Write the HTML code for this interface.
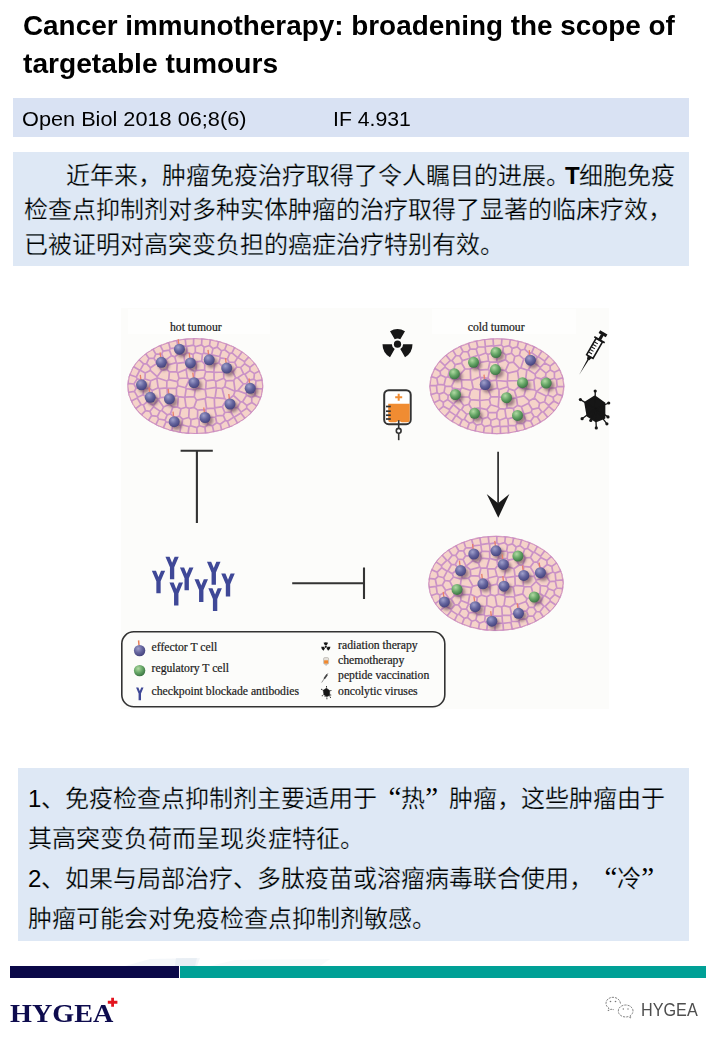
<!DOCTYPE html>
<html lang="zh-CN"><head><meta charset="utf-8">
<style>
html,body{margin:0;padding:0;background:#fff;}
body{width:720px;height:1040px;position:relative;overflow:hidden;font-family:"Liberation Sans",sans-serif;color:#000;}
.abs{position:absolute;}
.t{position:absolute;white-space:nowrap;line-height:1;}
#title1,#title2{font-weight:bold;font-size:27px;left:23.1px;transform-origin:0 0;}
#title1{top:12.9px;transform:scaleX(1.032);}
#title2{top:51px;transform:scaleX(1.043);}
#box1{left:13px;top:98px;width:676px;height:39px;background:#d9e2f3;}
#box2{left:13px;top:152px;width:676px;height:114px;background:#dee8f5;}
#box3{left:18px;top:768px;width:671px;height:173px;background:#dee8f5;}
.cn{font-size:24px;-webkit-text-stroke:0.25px #dee8f5;}
.ql,.qr{display:inline-block;width:24px;font-family:"Liberation Serif",serif;font-size:29px;line-height:0;-webkit-text-stroke:0;}
.ql{text-align:right;}
.qr{text-align:left;}
</style></head>
<body>
<div id="title1" class="t">Cancer immunotherapy: broadening the scope of</div>
<div id="title2" class="t">targetable tumours</div>
<div id="box1" class="abs"></div>
<div class="t" style="left:21.8px;top:108.7px;font-size:20.6px;transform-origin:0 0;transform:scaleX(1.054);">Open Biol 2018 06;8(6)</div>
<div class="t" style="left:332.5px;top:108.7px;font-size:20.6px;transform-origin:0 0;transform:scaleX(1.03);">IF 4.931</div>
<div id="box2" class="abs"></div>
<div class="t cn" style="left:66px;top:163.8px;">近年来，肿瘤免疫治疗取得了令人瞩目的进展。<span style="font-weight:bold;margin-left:-5px;letter-spacing:-1px;-webkit-text-stroke:0">T</span>细胞免疫</div>
<div class="t cn" style="left:24px;top:198px;">检查点抑制剂对多种实体肿瘤的治疗取得了显著的临床疗效，</div>
<div class="t cn" style="left:24px;top:233px;">已被证明对高突变负担的癌症治疗特别有效。</div>

<svg class="abs" style="left:0;top:0" width="720" height="1040" viewBox="0 0 720 1040"><rect x="121" y="308" width="488" height="401" fill="#fcfcfa"/>
<rect x="128" y="309" width="142" height="25" fill="#fefefd"/>
<rect x="432" y="309" width="144" height="25" fill="#fefefd"/>
<text x="170" y="330.6" font-family="Liberation Serif" font-size="11.7" fill="#1c1c1c" stroke="#1c1c1c" stroke-width="0.22">hot tumour</text>
<text x="467.8" y="330.6" font-family="Liberation Serif" font-size="11.7" fill="#1c1c1c" stroke="#1c1c1c" stroke-width="0.22">cold tumour</text>
<defs>
<radialGradient id="gP" cx="0.38" cy="0.32" r="0.72"><stop offset="0" stop-color="#a0a0cb"/><stop offset="0.5" stop-color="#66669f"/><stop offset="1" stop-color="#42407a"/></radialGradient>
<radialGradient id="gG" cx="0.38" cy="0.32" r="0.72"><stop offset="0" stop-color="#b2daa4"/><stop offset="0.5" stop-color="#68a868"/><stop offset="1" stop-color="#377040"/></radialGradient>
<filter id="blur" x="-50%" y="-50%" width="200%" height="200%"><feGaussianBlur stdDeviation="1.4"/></filter>
</defs>
<clipPath id="ec1"><ellipse cx="195.3" cy="386.1" rx="68" ry="48"/></clipPath>
<ellipse cx="195.3" cy="386.1" rx="68" ry="48" fill="#f5d3c9"/>
<path clip-path="url(#ec1)" d="M261.4 400.9L260.9 397.9M260.9 397.9L264.0 394.0M261.9 372.6L263.0 379.9M263.2 380.1L263.0 379.9M263.2 380.1L264.4 386.8M264.0 394.0L262.9 388.8M264.4 386.8L262.9 388.8M216.7 422.7L220.2 424.3M216.7 422.7L212.4 425.9M220.2 424.3L221.8 430.2M221.8 430.2L220.7 431.7M220.7 431.7L214.0 432.5M212.4 425.9L214.0 432.5M213.2 433.4L214.0 432.5M177.4 338.8L184.9 338.1M192.9 337.2L185.1 338.3M184.9 338.1L185.1 338.3M155.6 345.6L160.1 345.2M162.2 342.4L160.1 345.2M142.7 354.0L145.7 353.8M149.1 349.3L145.7 353.8M155.6 345.6L152.9 349.0M149.1 349.3L152.9 349.0M138.0 359.3L133.2 365.2M142.7 354.0L138.5 359.2M138.0 359.3L138.5 359.2M241.9 422.8L245.1 418.4M241.9 422.8L237.5 423.1M245.1 418.4L240.9 413.0M237.5 423.1L234.1 417.2M234.1 417.2L240.9 413.0M225.4 420.4L223.3 415.3M225.4 420.4L227.4 421.2M227.4 421.2L233.8 417.1M230.8 412.0L233.8 417.1M230.8 412.0L224.8 412.5M223.3 415.3L224.8 412.5M261.4 400.9L257.2 406.1M257.3 406.8L257.2 406.1M247.6 418.2L252.0 412.9M252.4 412.8L252.0 412.9M245.1 418.4L247.6 418.2M257.3 406.8L252.4 412.8M235.1 426.7L229.8 427.0M227.7 429.8L229.8 427.0M237.5 423.1L235.1 426.7M221.8 430.2L227.7 429.8M227.4 421.2L229.8 427.0M233.8 417.1L234.1 417.2M225.4 420.4L220.2 424.3M198.1 434.9L205.4 434.2M213.2 433.4L205.7 433.8M205.4 434.2L205.7 433.8M162.2 342.4L168.5 342.1M169.9 340.3L168.5 342.1M177.4 338.8L176.6 339.9M169.9 340.3L176.6 339.9M186.0 345.8L178.2 347.1M186.0 345.8L185.1 338.3M176.6 339.9L178.2 347.1M160.1 345.2L163.1 351.1M152.9 349.0L155.8 354.2M155.8 354.2L161.7 353.8M161.7 353.8L163.1 351.1M145.7 353.8L149.0 358.4M155.8 354.2L153.9 358.3M153.9 358.3L149.0 358.4M133.2 365.2L133.3 366.5M129.2 371.5L133.3 366.5M177.2 363.3L176.3 362.6M177.2 363.3L176.7 371.8M176.7 371.8L169.4 371.8M169.4 371.8L166.8 369.4M176.3 362.6L168.1 364.9M166.8 369.4L168.1 364.9M147.8 421.0L141.7 416.9M167.7 431.6L163.2 428.2M163.2 428.2L160.7 428.6M183.0 434.7L179.9 432.5M179.9 432.5L175.4 433.5M167.7 431.6L171.7 430.7M175.4 433.5L171.7 430.7M229.6 343.3L227.0 343.8M222.8 340.5L227.0 343.8M229.6 343.3L234.9 347.0M236.5 346.6L234.9 347.0M216.7 422.7L215.5 417.0M223.3 415.3L216.3 415.8M215.5 417.0L216.3 415.8M178.3 396.6L177.6 407.2M178.3 396.6L184.7 397.3M177.6 407.2L180.9 408.8M184.7 397.3L186.1 407.2M180.9 408.8L186.1 407.2M196.9 427.6L197.0 434.0M196.9 427.6L190.6 425.7M197.0 434.0L190.6 435.3M190.6 425.7L189.0 426.8M189.0 426.8L188.1 433.4M188.1 433.4L190.6 435.3M198.1 434.9L197.0 434.0M183.0 434.7L188.1 433.4M205.7 433.8L204.9 427.2M196.9 427.6L199.3 425.7M199.3 425.7L204.9 427.2M212.4 425.9L208.1 424.5M208.1 424.5L204.9 427.2M179.0 353.4L177.9 347.5M179.0 353.4L174.8 356.9M177.9 347.5L170.2 348.7M174.8 356.9L171.5 355.6M171.5 355.6L169.4 350.1M170.2 348.7L169.4 350.1M168.5 342.1L170.2 348.7M178.2 347.1L177.9 347.5M176.3 362.6L174.8 356.9M168.1 364.9L165.9 359.9M165.9 359.9L171.5 355.6M161.7 353.8L163.7 359.1M163.1 351.1L169.4 350.1M163.7 359.1L165.9 359.9M178.3 396.6L176.5 395.6M176.5 395.6L169.5 398.5M177.6 407.2L172.8 407.2M172.8 407.2L169.8 404.3M169.5 398.5L169.8 404.3M172.8 407.2L170.4 413.9M161.8 410.5L163.5 407.0M161.8 410.5L167.2 414.9M167.2 414.9L170.4 413.9M169.8 404.3L163.5 407.0M222.8 340.5L218.6 341.4M215.3 338.6L218.6 341.4M192.9 337.2L193.7 337.8M193.7 337.8L200.2 337.1M186.0 345.8L186.6 346.3M193.7 337.8L193.5 345.2M186.6 346.3L193.5 345.2M211.6 354.8L219.7 356.5M211.6 354.8L213.0 348.6M213.0 348.6L217.2 347.1M217.2 347.1L221.6 350.8M221.6 350.8L219.7 356.5M227.0 343.8L224.7 349.8M224.7 349.8L221.6 350.8M218.6 341.4L217.2 347.1M240.9 413.0L241.0 412.1M252.0 412.9L246.7 408.2M241.0 412.1L246.7 408.2M195.2 389.8L186.2 388.7M195.2 389.8L194.3 396.6M194.3 396.6L184.9 397.2M186.2 388.7L184.9 397.2M176.5 395.6L176.4 388.1M176.4 388.1L178.0 385.8M184.7 397.3L184.9 397.2M185.5 387.8L178.0 385.8M185.5 387.8L186.2 388.7M189.2 408.4L186.1 407.2M189.2 408.4L194.0 407.4M194.3 396.6L196.6 400.1M194.0 407.4L196.6 400.1M179.4 416.1L182.6 419.2M179.4 416.1L174.8 417.6M174.8 417.6L173.2 423.6M182.6 419.2L181.9 424.7M173.3 423.7L180.9 425.5M173.3 423.7L173.2 423.6M181.9 424.7L180.9 425.5M180.9 408.8L179.4 416.1M189.2 408.4L188.7 417.5M188.7 417.5L182.6 419.2M170.4 413.9L174.8 417.6M167.2 414.9L165.1 420.1M166.0 421.9L165.1 420.1M166.0 421.9L173.2 423.6M191.0 419.7L190.6 425.7M191.0 419.7L188.7 417.5M189.0 426.8L181.9 424.7M179.9 432.5L180.9 425.5M171.7 430.7L173.3 423.7M163.2 428.2L166.0 421.9M207.2 417.9L205.6 409.7M207.2 417.9L207.0 418.1M207.0 418.1L199.1 419.7M197.7 410.1L205.6 409.7M197.7 410.1L197.5 418.2M197.5 418.2L199.1 419.7M215.5 417.0L207.2 417.9M208.1 424.5L207.0 418.1M199.3 425.7L199.1 419.7M191.0 419.7L197.5 418.2M194.0 407.4L197.7 410.1M186.1 369.4L187.4 378.0M186.1 369.4L177.7 372.8M187.4 378.0L179.0 378.4M177.7 372.8L179.0 378.4M189.4 379.3L185.5 387.8M189.4 379.3L187.4 378.0M178.0 385.8L177.4 381.6M177.4 381.6L179.0 378.4M176.7 371.8L177.7 372.8M169.4 371.8L168.7 379.7M168.7 379.7L177.4 381.6M126.2 385.5L127.3 392.3M166.8 369.4L161.7 370.4M163.7 359.1L157.2 363.3M161.7 370.4L157.2 363.3M153.9 358.3L157.1 363.3M157.1 363.3L157.2 363.3M158.6 419.0L155.8 424.9M158.6 419.0L157.4 416.3M157.4 416.3L151.7 415.6M154.0 425.2L155.8 424.9M154.0 425.2L148.1 420.9M148.1 420.9L151.7 415.6M160.7 428.6L155.8 424.9M165.1 420.1L158.6 419.0M161.8 410.5L160.0 411.1M160.0 411.1L157.4 416.3M147.8 421.0L148.1 420.9M224.7 349.8L229.7 353.6M234.9 347.0L232.0 352.9M229.7 353.6L232.0 352.9M219.7 356.5L220.3 357.9M229.7 353.6L227.4 359.0M220.3 357.9L227.4 359.0M232.0 352.9L237.6 357.6M237.6 357.6L234.7 362.3M234.7 362.3L228.9 362.0M227.4 359.0L228.9 362.0M209.5 345.5L210.4 339.4M209.5 345.5L204.1 347.2M204.1 347.2L201.6 344.9M201.6 344.9L201.9 338.4M201.9 338.4L207.9 337.4M207.9 337.4L210.4 339.4M215.3 338.6L210.4 339.4M213.0 348.6L209.5 345.5M200.2 337.1L201.9 338.4M193.5 345.2L195.3 346.7M195.3 346.7L201.6 344.9M211.6 354.8L211.5 354.9M204.1 347.2L203.7 353.1M211.5 354.9L203.7 353.1M196.6 400.1L205.1 398.7M205.6 409.7L206.6 408.7M206.6 408.7L205.1 398.7M216.3 415.8L214.5 408.1M206.6 408.7L214.5 408.1M126.2 385.5L127.9 383.4M127.9 383.4L127.1 378.1M129.2 371.5L129.7 374.7M127.1 378.1L129.7 374.7M127.3 392.3L127.5 392.5M128.6 399.1L127.5 392.5M248.9 355.4L243.0 350.9M236.5 346.6L242.7 350.9M237.6 357.6L238.0 357.6M238.0 357.6L242.7 350.9M243.0 350.9L242.7 350.9M214.6 364.3L213.8 372.1M214.6 364.3L218.8 362.8M218.8 362.8L225.1 369.2M214.0 372.4L213.8 372.1M214.0 372.4L223.7 372.0M223.7 372.0L225.2 370.2M225.1 369.2L225.2 370.2M220.3 357.9L218.8 362.8M211.5 354.9L210.2 361.6M210.2 361.6L214.6 364.3M228.9 362.0L225.1 369.2M223.8 378.2L215.7 381.5M223.8 378.2L223.7 372.0M214.1 379.9L215.7 381.5M214.1 379.9L214.0 372.4M234.7 362.3L236.8 367.0M236.8 367.0L232.8 371.9M232.8 371.9L225.2 370.2M195.3 346.7L195.3 352.4M203.7 353.1L202.4 354.2M195.3 352.4L202.4 354.2M206.2 380.8L214.1 379.9M206.2 380.8L204.0 377.9M213.8 372.1L205.7 371.6M205.7 371.6L204.0 377.9M189.4 379.3L194.2 379.0M186.1 369.4L187.3 367.5M187.3 367.5L194.8 371.6M194.8 371.6L194.2 379.0M196.8 388.2L195.2 389.8M196.8 388.2L195.2 379.7M195.2 379.7L194.2 379.0M204.8 364.0L201.7 361.2M204.8 364.0L204.6 369.8M204.6 369.8L196.2 370.5M196.2 370.5L196.2 361.9M196.2 361.9L201.7 361.2M210.2 361.6L204.8 364.0M202.4 354.2L201.7 361.2M205.7 371.6L204.6 369.8M204.0 377.9L195.2 379.7M194.8 371.6L196.2 370.5M257.2 406.1L251.8 402.5M246.7 408.2L246.7 405.4M246.7 405.4L251.8 402.5M227.8 399.9L233.5 395.5M227.8 399.9L232.7 407.7M233.5 395.5L240.5 401.9M240.5 401.9L237.4 407.5M232.7 407.7L237.4 407.5M241.0 412.1L237.4 407.5M246.7 405.4L242.6 401.8M242.6 401.8L240.5 401.9M230.8 412.0L232.7 407.7M196.8 388.2L205.2 389.6M205.1 398.7L206.4 397.0M205.2 389.6L206.4 397.0M206.2 380.8L205.7 389.0M205.2 389.6L205.7 389.0M215.7 381.5L216.1 387.3M205.7 389.0L216.1 387.3M224.8 386.7L225.9 380.8M224.8 386.7L222.1 388.5M222.1 388.5L216.5 387.8M223.8 378.2L225.9 380.8M216.5 387.8L216.1 387.3M214.7 407.9L214.3 398.2M214.7 407.9L222.3 406.7M222.3 406.7L226.3 400.0M215.1 397.6L214.3 398.2M215.1 397.6L224.7 398.7M226.3 400.0L224.7 398.7M214.5 408.1L214.7 407.9M206.4 397.0L214.3 398.2M224.8 412.5L222.3 406.7M227.8 399.9L226.3 400.0M216.5 387.8L215.1 397.6M222.1 388.5L224.7 398.7M235.0 391.2L233.5 395.5M235.0 391.2L224.8 386.7M128.6 399.1L131.4 401.0M131.9 406.0L131.4 401.0M127.9 383.4L133.9 384.0M133.9 384.0L136.1 388.1M127.5 392.5L134.4 391.3M136.1 388.1L134.4 391.3M176.4 388.1L167.1 388.3M169.5 398.5L167.5 397.0M167.5 397.0L167.1 388.3M129.7 374.7L136.3 377.0M133.9 384.0L137.2 378.9M136.3 377.0L137.2 378.9M133.3 366.5L139.7 370.3M136.3 377.0L139.7 370.3M136.1 388.1L142.4 387.8M137.2 378.9L142.5 380.5M142.4 387.8L142.5 380.5M248.9 355.4L249.1 356.7M254.4 360.4L249.1 356.7M238.0 357.6L244.5 361.6M249.1 356.7L244.5 361.6M193.0 354.4L193.3 360.7M193.0 354.4L187.0 352.6M184.0 355.1L187.0 352.6M184.0 355.1L184.8 362.4M193.3 360.7L186.9 364.0M184.8 362.4L186.9 364.0M195.3 352.4L193.0 354.4M196.2 361.9L193.3 360.7M186.6 346.3L187.0 352.6M179.0 353.4L184.0 355.1M177.2 363.3L184.8 362.4M187.3 367.5L186.9 364.0M235.1 391.1L237.8 390.6M235.1 391.1L233.7 380.4M237.8 390.6L243.4 384.0M243.4 384.0L237.6 377.7M233.7 380.4L235.7 377.8M237.6 377.7L235.7 377.8M235.0 391.2L235.1 391.1M225.9 380.8L233.7 380.4M232.8 371.9L235.7 377.8M249.5 388.0L246.0 393.7M249.5 388.0L255.2 388.5M255.2 388.5L255.2 388.5M255.2 388.5L255.0 395.6M255.0 395.6L251.7 397.6M251.7 397.6L246.6 395.2M246.0 393.7L246.6 395.2M246.7 383.5L249.5 388.0M246.7 383.5L243.4 384.0M237.8 390.6L246.0 393.7M256.0 380.8L255.2 388.5M256.0 380.8L253.9 379.1M253.9 379.1L248.3 380.4M248.3 380.4L246.7 383.5M263.0 379.9L256.0 380.8M262.9 388.8L255.2 388.5M260.9 397.9L255.0 395.6M251.8 402.5L251.7 397.6M242.6 401.8L246.6 395.2M131.9 406.0L135.7 408.7M136.1 411.5L135.7 408.7M141.7 416.9L141.4 414.9M136.1 411.5L141.4 414.9M131.4 401.0L137.3 398.1M135.7 408.7L141.1 404.5M137.3 398.1L141.1 404.5M134.4 391.3L137.7 397.2M137.3 398.1L137.7 397.2M142.4 387.8L143.6 388.9M143.6 388.9L143.2 394.8M137.7 397.2L143.2 394.8M168.7 379.7L166.9 381.0M167.1 388.3L166.7 387.9M166.9 381.0L166.7 387.9M161.7 370.4L157.1 376.7M157.1 376.7L157.1 377.8M166.9 381.0L157.1 377.8M167.5 397.0L160.3 397.6M160.3 397.6L159.4 388.6M166.7 387.9L159.4 388.6M140.2 370.2L145.2 373.1M140.2 370.2L143.7 363.9M145.2 373.1L150.3 370.4M143.7 363.9L146.5 363.6M146.5 363.6L150.4 367.7M150.4 367.7L150.3 370.4M139.7 370.3L140.2 370.2M142.5 380.5L145.0 379.0M145.0 379.0L145.2 373.1M138.5 359.2L143.7 363.9M149.0 358.4L146.5 363.6M157.1 363.3L150.4 367.7M157.1 376.7L150.3 370.4M261.9 372.6L259.6 371.1M253.9 379.1L254.4 373.6M254.4 373.6L259.6 371.1M254.4 360.4L254.8 363.4M254.8 363.4L259.1 366.2M259.6 371.1L259.1 366.2M240.6 367.5L243.6 373.9M240.6 367.5L244.6 363.8M244.6 363.8L249.9 367.3M244.9 374.2L249.9 370.6M244.9 374.2L243.6 373.9M249.9 370.6L249.9 367.3M236.8 367.0L240.6 367.5M237.6 377.7L243.6 373.9M244.5 361.6L244.6 363.8M254.8 363.4L249.9 367.3M248.3 380.4L244.9 374.2M254.4 373.6L249.9 370.6M160.0 411.1L153.6 406.8M151.7 415.6L149.9 411.3M149.9 411.3L153.6 406.8M141.4 414.9L145.6 410.7M149.9 411.3L145.6 410.7M141.1 404.5L143.4 404.8M145.6 410.7L143.4 404.8M158.2 387.8L156.8 378.2M158.2 387.8L152.2 390.5M152.2 390.5L149.1 388.1M149.1 388.1L150.7 380.8M150.7 380.8L156.8 378.2M159.4 388.6L158.2 387.8M157.1 377.8L156.8 378.2M143.6 388.9L149.1 388.1M145.0 379.0L150.7 380.8M147.3 397.9L147.1 401.8M147.3 397.9L152.0 395.3M147.1 401.8L153.5 405.5M152.0 395.3L158.3 399.3M153.5 405.5L158.2 399.6M158.2 399.6L158.3 399.3M143.2 394.8L147.3 397.9M143.4 404.8L147.1 401.8M152.2 390.5L152.0 395.3M153.6 406.8L153.5 405.5M160.3 397.6L158.3 399.3M163.5 407.0L158.2 399.6" fill="none" stroke="#ca92c6" stroke-width="1.7" stroke-linejoin="round"/>
<ellipse cx="195.3" cy="386.1" rx="67.4" ry="47.4" fill="none" stroke="#c98ac2" stroke-width="0.9"/>
<circle cx="182.0" cy="352.0" r="5.6" fill="#5a3a50" opacity="0.55" filter="url(#blur)"/><line x1="178.8" y1="344.2" x2="178.2" y2="339.2" stroke="#e8806a" stroke-width="1.3"/><circle cx="179.4" cy="349.2" r="5.5" fill="url(#gP)"/>
<circle cx="163.9" cy="365.1" r="5.6" fill="#5a3a50" opacity="0.55" filter="url(#blur)"/><line x1="160.7" y1="357.3" x2="160.1" y2="352.3" stroke="#e8806a" stroke-width="1.3"/><circle cx="161.3" cy="362.3" r="5.5" fill="url(#gP)"/>
<circle cx="193.0" cy="365.7" r="5.6" fill="#5a3a50" opacity="0.55" filter="url(#blur)"/><line x1="189.8" y1="357.9" x2="189.2" y2="352.9" stroke="#e8806a" stroke-width="1.3"/><circle cx="190.4" cy="362.9" r="5.5" fill="url(#gP)"/>
<circle cx="211.8" cy="362.6" r="5.6" fill="#5a3a50" opacity="0.55" filter="url(#blur)"/><line x1="208.6" y1="354.8" x2="208.0" y2="349.8" stroke="#e8806a" stroke-width="1.3"/><circle cx="209.2" cy="359.8" r="5.5" fill="url(#gP)"/>
<circle cx="229.3" cy="370.9" r="5.6" fill="#5a3a50" opacity="0.55" filter="url(#blur)"/><line x1="226.1" y1="363.1" x2="225.5" y2="358.1" stroke="#e8806a" stroke-width="1.3"/><circle cx="226.7" cy="368.1" r="5.5" fill="url(#gP)"/>
<circle cx="196.6" cy="385.5" r="5.6" fill="#5a3a50" opacity="0.55" filter="url(#blur)"/><line x1="193.4" y1="377.7" x2="192.8" y2="372.7" stroke="#e8806a" stroke-width="1.3"/><circle cx="194.0" cy="382.7" r="5.5" fill="url(#gP)"/>
<circle cx="144.1" cy="387.6" r="5.6" fill="#5a3a50" opacity="0.55" filter="url(#blur)"/><line x1="140.9" y1="379.8" x2="140.3" y2="374.8" stroke="#e8806a" stroke-width="1.3"/><circle cx="141.5" cy="384.8" r="5.5" fill="url(#gP)"/>
<circle cx="252.8" cy="391.1" r="5.6" fill="#5a3a50" opacity="0.55" filter="url(#blur)"/><line x1="249.6" y1="383.3" x2="249.0" y2="378.3" stroke="#e8806a" stroke-width="1.3"/><circle cx="250.2" cy="388.3" r="5.5" fill="url(#gP)"/>
<circle cx="152.8" cy="400.1" r="5.6" fill="#5a3a50" opacity="0.55" filter="url(#blur)"/><line x1="149.6" y1="392.3" x2="149.0" y2="387.3" stroke="#e8806a" stroke-width="1.3"/><circle cx="150.2" cy="397.3" r="5.5" fill="url(#gP)"/>
<circle cx="172.0" cy="401.6" r="5.6" fill="#5a3a50" opacity="0.55" filter="url(#blur)"/><line x1="168.8" y1="393.8" x2="168.2" y2="388.8" stroke="#e8806a" stroke-width="1.3"/><circle cx="169.4" cy="398.8" r="5.5" fill="url(#gP)"/>
<circle cx="232.6" cy="406.8" r="5.6" fill="#5a3a50" opacity="0.55" filter="url(#blur)"/><line x1="229.4" y1="399.0" x2="228.8" y2="394.0" stroke="#e8806a" stroke-width="1.3"/><circle cx="230.0" cy="404.0" r="5.5" fill="url(#gP)"/>
<circle cx="207.6" cy="420.3" r="5.6" fill="#5a3a50" opacity="0.55" filter="url(#blur)"/><line x1="204.4" y1="412.5" x2="203.8" y2="407.5" stroke="#e8806a" stroke-width="1.3"/><circle cx="205.0" cy="417.5" r="5.5" fill="url(#gP)"/>
<circle cx="176.8" cy="424.5" r="5.6" fill="#5a3a50" opacity="0.55" filter="url(#blur)"/><line x1="173.6" y1="416.7" x2="173.0" y2="411.7" stroke="#e8806a" stroke-width="1.3"/><circle cx="174.2" cy="421.7" r="5.5" fill="url(#gP)"/>
<clipPath id="ec2"><ellipse cx="496.9" cy="386.2" rx="67.5" ry="48"/></clipPath>
<ellipse cx="496.9" cy="386.2" rx="67.5" ry="48" fill="#f5d3c9"/>
<path clip-path="url(#ec2)" d="M434.8 364.4L434.5 368.3M431.4 370.7L434.5 368.3M563.3 373.3L562.8 377.8M565.4 380.4L562.8 377.8M428.7 384.7L429.5 378.0M429.3 385.4L428.7 384.7M429.3 385.4L428.6 392.1M431.4 370.7L431.3 376.6M431.3 376.6L429.5 378.0M455.0 425.7L459.5 425.6M462.1 429.0L459.5 425.6M433.9 402.8L439.6 399.9M433.9 402.8L430.4 398.8M430.4 398.8L430.9 394.6M430.9 394.6L437.1 392.8M439.6 399.9L439.2 394.1M437.1 392.8L439.2 394.1M428.6 392.1L430.9 394.6M436.5 385.6L429.3 385.4M436.5 385.6L437.1 392.8M433.7 405.2L438.4 410.4M438.4 411.1L438.4 410.4M443.3 406.3L438.4 410.4M443.3 406.3L443.3 402.2M443.3 402.2L439.6 399.9M433.9 402.8L433.7 405.2M438.4 411.1L443.3 416.3M461.6 409.5L459.8 410.0M461.6 409.5L466.8 414.3M466.8 414.3L464.3 419.3M462.1 419.9L464.3 419.3M462.1 419.9L456.4 415.5M459.8 410.0L456.4 415.5M565.2 387.5L564.1 395.0M565.4 380.4L564.6 386.7M565.2 387.5L564.6 386.7M562.3 401.4L562.8 395.9M564.1 395.0L562.8 395.9M562.3 401.4L559.1 403.9M559.1 403.9L558.7 407.8M509.4 338.2L502.0 338.1M501.8 337.9L502.0 338.1M517.1 339.3L510.4 339.2M510.4 339.2L509.4 338.2M494.4 337.0L501.8 337.9M436.5 385.6L437.9 384.3M431.3 376.6L436.8 378.2M436.8 378.2L437.9 384.3M439.2 394.1L444.0 392.4M437.9 384.3L444.1 384.8M444.1 384.8L445.2 386.1M444.0 392.4L445.2 386.1M470.1 413.3L474.3 417.3M470.1 413.3L471.7 408.9M474.3 417.3L478.8 415.8M478.8 415.8L480.3 408.1M471.7 408.9L480.1 407.9M480.3 408.1L480.1 407.9M470.1 413.3L466.8 414.3M474.3 417.3L473.1 422.1M464.3 419.3L469.3 423.1M473.1 422.1L469.3 423.1M462.1 429.0L467.1 429.3M459.5 425.6L462.1 419.9M469.3 423.1L467.1 429.3M468.9 431.4L467.1 429.3M445.0 416.4L449.1 421.6M445.0 416.4L449.5 411.4M449.5 411.4L455.9 415.6M455.9 415.6L451.7 421.7M451.7 421.7L449.1 421.6M443.3 416.3L445.0 416.4M443.3 406.3L449.4 409.6M449.4 409.6L449.5 411.4M453.4 404.6L459.8 410.0M453.4 404.6L449.4 409.6M456.4 415.5L455.9 415.6M455.0 425.7L451.7 421.7M499.4 408.6L504.9 409.2M499.4 408.6L496.9 412.3M504.9 409.2L506.1 417.7M496.9 412.3L496.9 418.2M506.1 417.7L499.6 420.3M496.9 418.2L499.6 420.3M538.6 346.8L542.1 350.8M544.8 350.8L542.1 350.8M538.6 346.8L534.2 346.8M531.6 343.5L534.2 346.8M562.8 377.8L556.5 379.6M564.6 386.7L557.2 386.5M556.5 379.6L557.2 386.5M557.2 394.1L562.8 395.9M557.2 394.1L555.7 388.0M555.7 388.0L557.2 386.5M457.6 345.9L452.7 350.1M451.6 350.0L452.7 350.1M451.6 350.0L445.6 354.1M457.6 345.9L460.2 346.2M464.5 342.4L460.2 346.2M494.4 337.0L493.0 338.3M486.5 337.6L493.0 338.3M471.7 408.9L468.9 404.3M461.6 409.5L463.8 405.8M463.8 405.8L468.9 404.3M453.4 404.6L453.5 404.0M463.8 405.8L458.8 398.6M458.8 398.6L453.5 404.0M443.3 402.2L447.8 399.6M453.5 404.0L447.8 399.6M444.0 392.4L448.2 395.6M447.8 399.6L448.2 395.6M488.4 412.7L496.9 412.3M488.4 412.7L486.9 409.6M486.9 409.6L490.7 404.8M499.4 408.6L498.2 407.0M498.2 407.0L490.7 404.8M488.4 412.7L487.7 417.1M496.9 418.2L491.0 420.3M491.0 420.3L487.7 417.1M499.7 425.8L499.6 420.3M499.7 425.8L492.4 427.1M492.4 427.1L490.6 425.2M491.0 420.3L490.6 425.2M478.8 415.8L482.6 418.9M480.3 408.1L486.9 409.6M487.7 417.1L482.6 418.9M476.4 425.2L475.1 431.4M476.4 425.2L481.6 424.0M481.6 424.0L484.4 426.7M484.4 426.7L483.4 433.3M483.4 433.3L476.6 433.0M476.6 433.0L475.1 431.4M473.1 422.1L476.4 425.2M468.9 431.4L475.1 431.4M482.6 418.9L481.6 424.0M490.6 425.2L484.4 426.7M491.6 434.7L483.9 433.9M492.4 427.1L492.2 434.1M492.2 434.1L491.6 434.7M483.4 433.3L483.9 433.9M550.6 355.6L555.4 361.1M544.8 350.8L549.2 355.5M550.6 355.6L549.2 355.5M517.1 339.3L518.6 341.0M524.6 340.9L518.6 341.0M531.6 343.5L526.8 343.3M524.6 340.9L526.8 343.3M559.1 403.9L553.8 401.0M557.2 394.1L553.1 397.3M553.1 397.3L553.8 401.0M555.7 388.0L549.7 387.8M549.7 387.8L548.0 395.0M553.1 397.3L548.0 395.0M553.8 401.0L548.7 405.5M548.0 395.0L546.1 395.9M546.1 395.9L544.6 401.8M548.7 405.5L544.6 401.8M515.2 416.9L513.4 408.4M515.2 416.9L507.8 418.9M507.8 418.9L506.1 417.7M504.9 409.2L506.9 407.8M513.4 408.4L506.9 407.8M452.7 350.1L456.0 355.5M460.2 346.2L463.0 351.5M463.0 351.5L459.8 356.0M459.8 356.0L456.0 355.5M486.5 337.6L484.6 339.2M479.1 338.5L484.6 339.2M463.0 351.5L467.9 351.9M459.8 356.0L462.4 360.6M469.9 358.3L462.4 360.6M469.9 358.3L470.0 358.0M467.9 351.9L470.0 358.0M462.0 387.6L461.4 379.9M462.0 387.6L470.6 390.5M461.4 379.9L470.7 379.9M470.6 390.5L473.2 388.5M473.2 388.5L471.6 380.5M470.7 379.9L471.6 380.5M452.6 388.1L460.4 389.4M452.6 388.1L451.7 393.8M451.7 393.8L459.2 397.2M460.4 389.4L459.4 397.0M459.4 397.0L459.2 397.2M445.2 386.1L451.5 386.3M451.5 386.3L452.6 388.1M448.2 395.6L451.7 393.8M458.8 398.6L459.2 397.2M469.0 397.0L470.6 390.5M469.0 397.0L459.4 397.0M462.0 387.6L460.4 389.4M468.9 404.3L470.5 399.7M470.5 399.7L469.0 397.0M510.4 339.2L509.4 345.7M502.0 338.1L501.4 345.0M509.4 345.7L503.3 347.0M501.4 345.0L503.3 347.0M493.0 338.3L493.5 345.6M484.6 339.2L485.4 346.5M485.4 346.5L493.5 345.6M501.4 345.0L494.1 346.2M493.5 345.6L494.1 346.2M485.1 346.9L485.4 346.5M485.1 346.9L485.8 353.0M494.3 352.2L494.1 346.2M494.3 352.2L487.8 354.5M485.8 353.0L487.8 354.5M499.1 435.0L500.5 433.9M500.5 433.9L506.8 434.8M499.7 425.8L500.4 426.6M492.2 434.1L499.1 435.0M500.4 426.6L500.5 433.9M508.5 425.5L508.0 426.2M508.5 425.5L515.6 425.6M508.0 426.2L508.7 433.3M508.7 433.3L514.4 434.0M515.6 425.6L517.1 431.5M517.1 431.5L514.4 434.0M507.8 418.9L508.5 425.5M500.4 426.6L508.0 426.2M515.2 416.9L515.6 417.2M517.3 423.2L515.6 417.2M517.3 423.2L515.6 425.6M506.8 434.8L508.7 433.3M522.1 432.3L517.1 431.5M555.4 361.1L555.4 362.0M555.4 362.0L560.3 367.0M563.3 373.3L560.0 369.5M560.3 367.0L560.0 369.5M509.4 345.7L512.2 348.4M518.6 341.0L517.3 346.9M517.3 346.9L512.2 348.4M558.7 407.8L554.4 411.1M548.7 405.5L548.8 406.4M548.8 406.4L554.4 411.1M554.4 411.1L554.1 413.3M513.4 408.4L517.5 405.4M506.9 407.8L506.9 399.5M506.9 399.5L516.5 397.9M516.5 397.9L517.5 405.4M451.5 386.3L454.6 380.0M461.4 379.9L459.6 378.2M454.6 380.0L459.6 378.2M477.8 347.0L476.3 340.8M477.8 347.0L476.2 349.2M476.2 349.2L470.2 349.0M470.2 349.0L468.3 343.0M476.3 340.8L471.7 340.0M471.7 340.0L468.3 343.0M479.1 338.5L476.3 340.8M485.1 346.9L477.8 347.0M478.0 355.3L476.2 349.2M478.0 355.3L478.6 355.7M478.6 355.7L485.8 353.0M478.0 355.3L470.0 358.0M467.9 351.9L470.2 349.0M464.5 342.4L468.3 343.0M470.5 399.7L479.7 400.4M473.2 388.5L480.0 389.9M480.0 389.9L479.7 400.4M480.1 407.9L479.8 400.5M490.7 404.8L489.3 399.5M479.8 400.5L489.3 399.5M479.8 400.5L479.7 400.4M503.3 347.0L502.8 352.3M511.4 353.2L512.2 348.4M511.4 353.2L505.9 354.9M505.9 354.9L502.8 352.3M494.3 352.2L497.1 354.4M502.8 352.3L497.1 354.4M469.9 358.3L473.1 367.2M473.1 367.2L477.5 367.6M478.6 355.7L480.4 362.3M477.5 367.6L480.4 362.3M487.8 354.5L488.5 361.0M480.4 362.3L488.5 361.0M497.1 354.4L496.8 361.9M496.8 361.9L489.8 362.2M489.8 362.2L488.5 361.0M556.5 379.6L554.5 378.3M560.0 369.5L554.4 372.3M554.5 378.3L554.4 372.3M542.1 350.8L538.3 356.6M549.2 355.5L544.6 361.1M538.3 356.6L544.6 361.1M534.2 346.8L531.7 352.6M531.7 352.6L537.4 356.9M538.3 356.6L537.4 356.9M526.8 343.3L524.6 349.2M517.3 346.9L520.7 350.2M524.6 349.2L520.7 350.2M531.7 352.6L529.2 353.4M524.6 349.2L529.2 353.4M532.7 363.0L534.2 362.6M532.7 363.0L526.9 358.0M534.2 362.6L537.4 356.9M529.2 353.4L526.9 358.0M548.0 417.9L542.5 422.7M554.1 413.3L548.0 417.6M548.0 417.9L548.0 417.6M548.8 406.4L543.4 412.0M548.0 417.6L543.4 412.0M536.8 391.4L546.1 395.9M536.8 391.4L536.6 391.4M544.6 401.8L539.6 403.2M536.6 391.4L534.4 398.0M534.4 398.0L539.6 403.2M461.6 363.1L465.0 369.0M461.6 363.1L455.1 364.7M455.1 364.7L453.9 369.1M453.9 369.1L459.8 374.9M465.0 369.0L459.8 374.9M462.4 360.6L461.6 363.1M470.3 369.0L465.0 369.0M470.3 369.0L473.1 367.2M456.0 355.5L452.0 360.6M452.0 360.6L455.1 364.7M470.3 369.0L470.7 379.9M459.6 378.2L459.8 374.9M445.8 377.6L440.6 375.1M445.8 377.6L448.0 376.7M448.0 376.7L449.4 370.4M440.1 371.4L440.6 375.1M440.1 371.4L445.0 367.1M445.0 367.1L449.4 370.4M436.8 378.2L440.6 375.1M444.1 384.8L445.8 377.6M454.6 380.0L448.0 376.7M453.9 369.1L449.4 370.4M434.5 368.3L440.1 371.4M507.9 373.2L517.5 370.9M507.9 373.2L507.5 380.8M517.5 370.9L518.8 379.7M507.5 380.8L518.2 380.5M518.8 379.7L518.2 380.5M534.8 389.8L526.1 388.8M534.8 389.8L533.8 379.9M533.8 379.9L526.5 380.6M526.5 380.6L526.1 388.8M490.9 396.8L488.6 390.5M490.9 396.8L499.0 396.8M488.6 390.5L497.5 388.1M499.0 396.8L499.0 396.8M499.0 396.8L499.0 389.6M499.0 389.6L497.5 388.1M481.6 389.0L480.0 389.9M481.6 389.0L486.9 389.0M486.9 389.0L488.6 390.5M489.3 399.5L490.9 396.8M498.2 407.0L499.0 396.8M490.5 380.8L496.2 380.1M490.5 380.8L486.9 389.0M496.2 380.1L496.6 380.5M496.6 380.5L497.5 388.1M504.8 397.2L506.9 399.5M504.8 397.2L499.0 396.8M504.8 397.2L509.1 388.9M507.7 386.8L509.1 388.9M507.7 386.8L499.0 389.6M496.6 380.5L507.2 381.3M507.2 381.3L507.7 386.8M497.6 362.6L505.5 359.6M497.6 362.6L499.6 369.6M505.5 370.7L508.9 362.8M505.5 370.7L499.6 369.6M508.9 362.8L505.5 359.6M505.9 354.9L505.5 359.6M496.8 361.9L497.6 362.6M507.9 373.2L505.5 370.7M497.5 371.6L499.6 369.6M497.5 371.6L496.2 380.1M507.2 381.3L507.5 380.8M479.5 370.1L488.3 369.3M479.5 370.1L480.1 376.9M480.1 376.9L480.7 377.4M480.7 377.4L488.0 378.3M488.0 378.3L489.5 370.7M489.5 370.7L488.3 369.3M477.5 367.6L479.5 370.1M489.8 362.2L488.3 369.3M471.6 380.5L480.1 376.9M481.6 389.0L480.7 377.4M490.5 380.8L488.0 378.3M497.5 371.6L489.5 370.7M549.7 387.8L548.5 386.4M554.5 378.3L549.6 379.8M549.6 379.8L548.5 386.4M536.8 391.4L542.5 386.3M542.5 386.3L548.5 386.4M555.4 362.0L550.1 366.1M554.4 372.3L550.3 369.9M550.1 366.1L550.3 369.9M544.6 361.1L544.7 363.0M550.1 366.1L544.7 363.0M534.2 362.6L540.2 367.3M544.7 363.0L540.2 367.3M523.8 359.1L519.3 355.2M523.8 359.1L520.8 367.9M513.4 362.2L519.4 368.3M513.4 362.2L514.8 356.5M514.8 356.5L519.3 355.2M520.8 367.9L519.4 368.3M520.7 350.2L519.3 355.2M526.9 358.0L523.8 359.1M526.8 370.0L528.3 369.8M526.8 370.0L520.8 367.9M532.7 363.0L528.3 369.8M517.5 370.9L519.4 368.3M508.9 362.8L513.4 362.2M511.4 353.2L514.8 356.5M526.8 370.0L525.6 379.9M518.8 379.7L525.6 379.9M542.5 422.7L540.8 422.5M535.9 426.6L540.8 422.5M445.5 354.5L450.3 360.5M445.5 354.5L439.9 359.0M450.3 360.5L444.9 365.6M444.9 365.6L439.7 360.8M439.7 360.8L439.9 359.0M445.6 354.1L445.5 354.5M452.0 360.6L450.3 360.5M445.0 367.1L444.9 365.6M434.8 364.4L439.7 360.8M524.0 395.8L516.6 397.5M524.0 395.8L525.8 389.0M525.8 389.0L518.4 387.1M516.6 397.5L514.4 390.6M514.4 390.6L518.4 387.1M516.5 397.9L516.6 397.5M517.5 405.4L521.4 406.8M521.4 406.8L528.5 403.2M529.4 400.8L528.5 403.2M529.4 400.8L524.0 395.8M536.6 391.4L534.8 389.8M534.4 398.0L529.4 400.8M526.1 388.8L525.8 389.0M518.2 380.5L518.4 387.1M525.6 379.9L526.5 380.6M509.1 388.9L514.4 390.6M540.1 368.4L546.0 373.1M540.1 368.4L535.0 374.1M535.7 377.4L535.0 374.1M535.7 377.4L541.0 378.9M541.0 378.9L545.5 376.7M545.5 376.7L546.0 373.1M550.3 369.9L546.0 373.1M540.2 367.3L540.1 368.4M528.3 369.8L535.0 374.1M533.8 379.9L535.7 377.4M542.5 386.3L541.0 378.9M549.6 379.8L545.5 376.7M522.1 432.3L525.1 429.4M517.3 423.2L523.4 423.6M523.4 423.6L525.1 429.4M535.9 426.6L533.3 426.3M533.3 426.3L529.4 429.9M529.4 429.9L525.1 429.4M543.4 412.0L541.8 411.8M540.8 422.5L537.3 416.9M537.3 416.9L541.8 411.8M539.6 403.2L538.7 407.8M541.8 411.8L538.7 407.8M528.5 403.2L532.1 409.3M538.7 407.8L532.1 409.3M531.3 412.1L534.0 416.5M531.3 412.1L523.9 414.2M534.0 416.5L530.7 421.1M530.7 421.1L525.7 420.4M525.7 420.4L523.7 414.7M523.7 414.7L523.9 414.2M537.3 416.9L534.0 416.5M532.1 409.3L531.3 412.1M521.4 406.8L523.9 414.2M533.3 426.3L530.7 421.1M523.4 423.6L525.7 420.4M515.6 417.2L523.7 414.7" fill="none" stroke="#ca92c6" stroke-width="1.7" stroke-linejoin="round"/>
<ellipse cx="496.9" cy="386.2" rx="66.9" ry="47.4" fill="none" stroke="#c98ac2" stroke-width="0.9"/>
<circle cx="498.6" cy="355.3" r="5.6" fill="#5a3a50" opacity="0.55" filter="url(#blur)"/><circle cx="496.0" cy="352.5" r="5.5" fill="url(#gG)"/>
<circle cx="476.1" cy="365.1" r="5.6" fill="#5a3a50" opacity="0.55" filter="url(#blur)"/><circle cx="473.5" cy="362.3" r="5.5" fill="url(#gG)"/>
<circle cx="498.0" cy="372.4" r="5.6" fill="#5a3a50" opacity="0.55" filter="url(#blur)"/><circle cx="495.4" cy="369.6" r="5.5" fill="url(#gG)"/>
<circle cx="457.0" cy="376.6" r="5.6" fill="#5a3a50" opacity="0.55" filter="url(#blur)"/><circle cx="454.4" cy="373.8" r="5.5" fill="url(#gG)"/>
<circle cx="525.1" cy="385.5" r="5.6" fill="#5a3a50" opacity="0.55" filter="url(#blur)"/><circle cx="522.5" cy="382.7" r="5.5" fill="url(#gG)"/>
<circle cx="548.9" cy="385.9" r="5.6" fill="#5a3a50" opacity="0.55" filter="url(#blur)"/><circle cx="546.2" cy="383.1" r="5.5" fill="url(#gG)"/>
<circle cx="458.0" cy="397.4" r="5.6" fill="#5a3a50" opacity="0.55" filter="url(#blur)"/><circle cx="455.4" cy="394.6" r="5.5" fill="url(#gG)"/>
<circle cx="509.1" cy="400.5" r="5.6" fill="#5a3a50" opacity="0.55" filter="url(#blur)"/><circle cx="506.5" cy="397.7" r="5.5" fill="url(#gG)"/>
<circle cx="477.2" cy="416.1" r="5.6" fill="#5a3a50" opacity="0.55" filter="url(#blur)"/><circle cx="474.6" cy="413.3" r="5.5" fill="url(#gG)"/>
<circle cx="520.1" cy="418.2" r="5.6" fill="#5a3a50" opacity="0.55" filter="url(#blur)"/><circle cx="517.5" cy="415.4" r="5.5" fill="url(#gG)"/>
<circle cx="533.0" cy="363.0" r="5.6" fill="#5a3a50" opacity="0.55" filter="url(#blur)"/><line x1="529.8" y1="355.2" x2="529.2" y2="350.2" stroke="#e8806a" stroke-width="1.3"/><circle cx="530.4" cy="360.2" r="5.5" fill="url(#gP)"/>
<circle cx="487.8" cy="387.4" r="5.6" fill="#5a3a50" opacity="0.55" filter="url(#blur)"/><line x1="484.6" y1="379.6" x2="484.0" y2="374.6" stroke="#e8806a" stroke-width="1.3"/><circle cx="485.2" cy="384.6" r="5.5" fill="url(#gP)"/>
<clipPath id="ec3"><ellipse cx="496.0" cy="583.4" rx="67.7" ry="47.6"/></clipPath>
<ellipse cx="496.0" cy="583.4" rx="67.7" ry="47.6" fill="#f5d3c9"/>
<path clip-path="url(#ec3)" d="M428.2 587.8L429.1 594.5M428.1 573.9L428.9 578.3M427.1 580.9L428.9 578.3M428.5 587.3L427.1 580.9M428.5 587.3L428.2 587.8M435.4 561.7L431.1 567.3M431.4 569.6L431.1 567.3M431.4 569.6L428.1 573.9M465.8 547.8L463.7 541.8M465.8 547.8L472.0 547.9M472.0 547.9L473.3 545.8M473.3 545.8L471.5 539.0M463.7 541.8L465.1 539.9M465.1 539.9L471.5 539.0M457.8 542.3L463.7 541.8M457.8 542.3L455.7 545.5M455.7 545.5L451.3 546.1M560.8 599.4L560.5 597.7M564.0 593.1L560.5 597.7M552.0 611.5L556.2 605.4M560.8 599.4L556.2 605.3M556.2 605.4L556.2 605.3M489.8 558.4L489.6 551.5M489.8 558.4L496.9 560.4M489.6 551.5L490.1 550.8M496.9 560.4L498.5 558.4M498.5 558.4L498.8 551.3M490.1 550.8L498.4 550.8M498.8 551.3L498.4 550.8M471.5 539.0L472.6 537.7M505.4 536.7L510.2 535.4M505.4 536.7L502.3 534.5M517.7 536.9L513.7 537.8M513.7 537.8L510.2 535.4M445.0 550.4L442.0 555.0M439.8 555.4L442.0 555.0M451.3 546.1L448.6 549.9M448.6 549.9L445.0 550.4M452.3 555.2L448.1 560.5M452.3 555.2L448.6 549.9M448.1 560.5L446.8 560.4M446.8 560.4L442.0 555.0M446.8 560.4L441.4 565.6M441.4 565.6L435.7 561.6M435.7 561.6L439.8 555.4M435.4 561.7L435.7 561.6M496.8 632.2L494.9 631.0M489.5 632.2L494.9 631.0M564.0 593.1L562.8 588.6M564.7 585.9L562.8 588.6M560.5 597.7L554.6 594.6M550.3 601.2L556.2 605.3M550.3 601.2L549.9 599.1M549.9 599.1L554.6 594.6M517.7 536.9L521.7 539.6M521.7 539.6L524.8 538.9M527.4 548.4L524.7 549.3M527.4 548.4L529.7 542.2M529.7 542.2L524.8 538.9M521.7 539.6L520.0 545.6M520.0 545.6L524.7 549.3M503.0 623.3L510.9 622.4M503.0 623.3L503.5 630.6M504.6 631.4L503.5 630.6M504.6 631.4L512.1 630.3M510.9 622.4L512.4 630.0M512.1 630.3L512.4 630.0M496.8 632.2L503.5 630.6M502.6 623.0L503.0 623.3M502.6 623.0L495.1 623.9M495.1 623.9L494.9 631.0M519.9 628.9L512.4 630.0M533.9 624.4L536.1 621.3M540.5 620.9L536.1 621.3M490.1 550.8L489.5 543.9M498.5 544.2L498.4 550.8M498.5 544.2L496.8 542.6M489.5 543.9L496.8 542.6M504.8 542.6L498.5 544.2M504.8 542.6L505.4 536.7M502.3 534.5L496.9 536.1M496.9 536.1L496.8 542.6M453.7 621.4L447.1 617.3M460.0 624.9L454.1 621.3M453.7 621.4L454.1 621.3M460.0 624.9L461.9 624.4M467.1 627.8L461.9 624.4M429.1 594.5L430.8 595.8M431.7 601.5L430.8 595.8M428.5 587.3L436.2 586.4M430.8 595.8L437.2 593.5M436.2 586.4L437.2 593.5M455.7 545.5L458.8 550.7M452.3 555.2L455.7 555.5M455.7 555.5L458.8 550.7M465.8 547.8L463.6 551.0M463.6 551.0L458.8 550.7M564.2 578.7L562.6 571.8M564.7 585.9L563.5 579.9M564.2 578.7L563.5 579.9M560.0 564.8L561.0 570.9M562.6 571.8L561.0 570.9M562.8 588.6L556.8 588.0M554.6 594.6L554.0 590.7M556.8 588.0L554.0 590.7M530.5 557.4L533.8 562.2M530.5 557.4L525.4 558.0M523.7 566.4L522.5 565.2M523.7 566.4L530.3 567.1M533.8 562.2L530.3 567.1M522.5 565.2L525.4 558.0M530.5 557.4L533.1 552.5M533.1 552.5L527.4 548.4M524.7 549.3L522.8 554.3M525.4 558.0L522.8 554.3M496.9 560.4L497.8 565.5M498.5 558.4L507.2 558.6M497.8 565.5L506.2 567.5M506.2 567.5L507.7 566.6M507.7 566.6L508.3 560.2M507.2 558.6L508.3 560.2M507.7 566.6L514.0 568.7M514.0 568.7L519.2 565.0M519.2 565.0L515.6 558.7M508.3 560.2L515.6 558.7M522.5 565.2L519.2 565.0M522.8 554.3L516.8 554.7M515.6 558.7L516.8 554.7M519.9 628.9L520.6 627.9M510.9 622.4L511.6 621.5M511.6 621.5L518.7 621.3M520.6 627.9L518.7 621.3M520.6 627.9L526.9 627.1M533.9 624.4L528.4 625.0M526.9 627.1L528.4 625.0M546.6 616.5L550.0 611.8M546.6 616.5L543.4 616.9M543.4 616.9L539.9 611.8M550.0 611.8L545.1 606.3M539.9 611.8L544.0 606.3M545.1 606.3L544.0 606.3M552.0 611.5L550.0 611.8M540.5 620.9L543.4 616.9M550.3 601.2L545.1 606.3M506.2 567.5L504.4 576.6M514.0 568.7L515.1 576.1M504.4 576.6L505.8 577.7M505.8 577.7L514.9 576.3M514.9 576.3L515.1 576.1M549.9 599.1L544.9 595.7M554.0 590.7L548.4 588.8M544.9 595.7L548.4 588.8M480.8 545.0L481.8 551.2M480.8 545.0L481.0 544.6M481.8 551.2L489.6 551.5M489.5 543.9L489.0 543.4M489.0 543.4L481.0 544.6M473.3 545.8L480.8 545.0M472.6 537.7L479.7 537.0M481.0 544.6L479.7 537.0M479.7 537.0L479.7 536.9M494.9 534.8L488.2 536.1M487.3 535.5L488.2 536.1M496.9 536.1L494.9 534.8M489.0 543.4L488.2 536.1M479.7 536.9L487.3 535.5M467.1 627.8L470.0 627.1M474.1 629.9L470.0 627.1M489.8 558.4L489.4 558.8M495.1 568.9L487.6 568.6M495.1 568.9L497.8 565.5M487.6 568.6L486.7 568.1M489.4 558.8L486.7 568.1M473.0 560.7L478.6 563.3M473.0 560.7L471.5 556.0M473.7 552.8L480.2 553.4M473.7 552.8L471.5 556.0M480.2 553.4L481.4 558.2M481.4 558.2L478.6 563.3M472.0 547.9L473.7 552.8M481.8 551.2L480.2 553.4M465.6 555.7L463.6 551.0M465.6 555.7L471.5 556.0M489.4 558.8L481.4 558.2M486.7 568.1L480.9 568.2M480.9 568.2L479.8 567.1M479.8 567.1L478.6 563.3M563.5 579.9L555.9 580.5M561.0 570.9L555.1 573.1M555.9 580.5L555.1 573.1M556.8 588.0L555.3 581.1M555.9 580.5L555.3 581.1M560.0 564.8L556.7 562.9M556.7 562.9L551.8 566.4M551.8 566.4L552.8 572.0M555.1 573.1L552.8 572.0M529.7 542.2L531.7 541.7M556.7 562.9L555.9 559.0M506.6 551.0L507.6 545.3M506.6 551.0L507.8 552.5M507.8 552.5L515.0 552.1M507.6 545.3L512.4 543.9M512.4 543.9L516.1 547.0M516.1 547.0L515.0 552.1M504.8 542.6L507.6 545.3M498.8 551.3L506.6 551.0M507.2 558.6L507.8 552.5M516.8 554.7L515.0 552.1M513.7 537.8L512.4 543.9M520.0 545.6L516.1 547.0M528.4 625.0L526.2 619.1M518.7 621.3L520.2 618.9M526.2 619.1L520.2 618.9M511.6 621.5L510.6 615.3M511.5 613.8L510.6 615.3M511.5 613.8L518.7 613.5M520.2 618.9L518.7 613.5M523.7 566.4L523.3 576.1M515.1 576.1L523.2 576.2M523.3 576.1L523.2 576.2M534.5 574.0L530.3 567.1M534.5 574.0L534.2 576.4M523.3 576.1L534.2 576.4M515.2 585.4L523.4 586.1M515.2 585.4L514.9 576.3M523.2 576.2L523.4 586.1M498.5 585.9L498.4 594.2M498.5 585.9L507.3 586.0M507.3 586.0L507.6 586.3M507.6 586.3L504.1 595.3M504.1 595.3L498.4 594.2M505.8 577.7L507.3 586.0M513.2 587.0L507.6 586.3M513.2 587.0L515.2 585.4M454.1 621.3L457.4 614.6M461.9 624.4L464.3 618.4M464.3 618.4L458.9 614.2M457.4 614.6L458.9 614.2M431.7 601.5L435.2 603.6M437.2 593.5L439.7 594.9M439.7 594.9L439.9 600.2M439.9 600.2L435.2 603.6M435.9 607.5L435.2 603.6M431.4 569.6L437.2 572.2M441.4 565.6L441.8 567.7M437.2 572.2L441.8 567.7M436.7 585.8L442.4 585.2M436.7 585.8L435.3 579.2M442.4 585.2L444.9 580.5M435.3 579.2L438.1 576.3M438.1 576.3L443.6 577.8M444.9 580.5L443.6 577.8M428.9 578.3L435.3 579.2M436.2 586.4L436.7 585.8M437.2 572.2L438.1 576.3M441.8 567.7L447.2 571.2M447.2 571.2L443.6 577.8M480.9 568.2L479.1 576.2M479.8 567.1L470.2 569.7M479.1 576.2L470.8 575.7M470.2 569.7L470.8 575.7M547.1 586.4L540.4 585.5M547.1 586.4L549.8 581.6M549.8 581.6L546.5 576.2M546.5 576.2L536.1 580.2M540.4 585.5L536.1 581.6M536.1 580.2L536.1 581.6M548.4 588.8L547.1 586.4M555.3 581.1L549.8 581.6M552.8 572.0L547.0 574.7M547.0 574.7L546.5 576.2M531.1 586.5L536.1 581.6M531.1 586.5L524.2 586.8M524.2 586.8L523.4 586.1M534.2 576.4L536.1 580.2M533.1 552.5L534.3 552.1M531.7 541.7L537.8 545.5M534.3 552.1L537.8 545.5M537.8 545.5L538.3 545.3M537.3 562.1L541.0 568.1M537.3 562.1L540.8 557.6M540.8 557.6L546.8 560.6M541.0 568.1L543.0 568.2M543.0 568.2L547.2 564.5M547.2 564.5L546.8 560.6M533.8 562.2L537.3 562.1M534.5 574.0L541.0 568.1M540.6 556.2L534.3 552.1M540.6 556.2L540.8 557.6M547.0 574.7L543.0 568.2M551.8 566.4L547.2 564.5M555.9 559.0L551.4 556.3M551.4 556.3L546.8 560.6M551.0 554.0L545.1 550.3M544.8 549.1L545.1 550.3M551.4 556.3L551.0 554.0M540.6 556.2L545.1 550.3M538.3 545.3L544.8 549.1M533.4 595.0L540.0 593.5M533.4 595.0L532.5 596.8M532.5 596.8L536.8 602.6M543.5 596.0L540.0 593.5M543.5 596.0L540.3 602.4M540.3 602.4L536.8 602.6M531.1 586.5L533.4 595.0M540.4 585.5L540.0 593.5M544.9 595.7L543.5 596.0M544.0 606.3L540.3 602.4M536.3 611.5L533.8 607.5M536.3 611.5L533.3 616.1M533.8 607.5L528.9 607.2M533.3 616.1L528.4 615.8M528.4 615.8L526.5 611.0M526.5 611.0L528.9 607.2M539.9 611.8L536.3 611.5M536.8 602.6L533.8 607.5M536.1 621.3L533.3 616.1M526.2 619.1L528.4 615.8M518.7 613.5L520.2 611.1M520.2 611.1L526.5 611.0M495.1 568.9L497.0 576.0M487.6 568.6L488.5 578.0M488.5 578.0L497.0 576.0M504.4 576.6L498.4 577.3M498.5 585.9L496.9 584.2M496.9 584.2L498.4 577.3M497.0 576.0L498.4 577.3M449.0 598.8L451.1 598.8M449.0 598.8L444.8 592.6M451.1 598.8L454.6 595.4M454.6 595.4L452.5 588.4M452.5 588.4L445.7 590.3M444.8 592.6L445.7 590.3M439.7 594.9L444.8 592.6M445.0 602.6L439.9 600.2M445.0 602.6L449.0 598.8M461.0 600.5L460.6 596.3M461.0 600.5L458.3 604.8M460.6 596.3L454.6 595.4M458.3 604.8L454.8 604.9M454.8 604.9L451.1 598.8M442.4 585.2L445.7 590.3M445.3 605.9L440.5 610.3M445.3 605.9L451.2 609.2M451.3 610.6L451.2 609.2M451.3 610.6L446.9 616.3M446.9 616.3L441.0 612.9M441.0 612.9L440.5 610.3M445.0 602.6L445.3 605.9M435.9 607.5L440.5 610.3M454.8 604.9L451.2 609.2M461.6 609.2L458.9 614.2M461.6 609.2L458.3 604.8M457.4 614.6L451.3 610.6M447.1 617.3L446.9 616.3M462.3 594.4L469.8 594.7M462.3 594.4L461.0 585.8M461.0 585.8L471.6 587.6M471.6 587.6L470.6 594.2M470.6 594.2L469.8 594.7M461.0 600.5L468.2 603.4M460.6 596.3L462.3 594.4M469.8 594.7L468.2 603.4M470.0 627.1L471.7 621.2M464.3 618.4L467.4 617.4M467.4 617.4L471.7 621.2M448.1 560.5L451.5 564.6M447.2 571.2L447.9 571.0M451.5 564.6L447.9 571.0M461.0 585.8L460.4 585.1M452.5 588.4L453.0 587.5M460.4 585.1L453.0 587.5M444.9 580.5L449.7 581.2M453.0 587.5L449.7 581.2M480.5 579.3L478.4 585.0M480.5 579.3L487.6 579.2M487.6 579.2L490.6 585.7M480.1 587.0L489.9 587.0M480.1 587.0L478.4 585.0M489.9 587.0L490.6 585.7M472.9 586.2L468.5 578.1M472.9 586.2L478.4 585.0M479.1 576.2L480.5 579.3M470.8 575.7L468.5 578.1M488.5 578.0L487.6 579.2M496.9 584.2L490.6 585.7M472.9 586.2L471.6 587.6M470.6 594.2L477.2 597.5M481.5 595.1L477.2 597.5M481.5 595.1L480.1 587.0M526.9 598.8L526.0 601.5M526.9 598.8L522.7 593.9M526.0 601.5L518.0 604.5M522.7 593.9L514.9 595.9M514.9 595.9L514.2 597.0M514.2 597.0L515.6 603.2M515.6 603.2L518.0 604.5M532.5 596.8L526.9 598.8M528.9 607.2L526.0 601.5M524.2 586.8L522.7 593.9M520.2 611.1L518.0 604.5M513.2 587.0L514.9 595.9M505.3 596.6L514.2 597.0M505.3 596.6L504.1 595.3M510.0 607.1L504.0 605.6M510.0 607.1L515.6 603.2M504.0 605.6L505.3 596.6M511.5 613.8L510.0 607.1M495.1 623.9L493.7 622.6M489.5 632.2L486.7 630.4M493.7 622.6L487.5 623.9M487.5 623.9L486.7 630.4M474.1 629.9L478.5 628.8M478.5 628.8L482.0 631.4M482.0 631.4L486.7 630.4M466.4 608.9L469.0 612.8M466.4 608.9L468.5 604.2M469.0 612.8L475.3 612.1M468.5 604.2L476.5 604.7M475.3 612.1L477.0 605.5M477.0 605.5L476.5 604.7M461.6 609.2L466.4 608.9M467.4 617.4L469.0 612.8M468.2 603.4L468.5 604.2M477.2 597.5L476.5 604.7M455.7 555.5L458.1 559.1M451.5 564.6L455.2 564.6M455.2 564.6L458.1 559.1M465.6 555.7L463.1 559.5M458.1 559.1L463.1 559.5M473.0 560.7L466.1 566.1M463.1 559.5L466.1 566.1M470.2 569.7L466.1 566.2M466.1 566.1L466.1 566.2M462.1 578.3L461.4 569.5M462.1 578.3L461.2 579.2M461.2 579.2L453.5 577.0M461.4 569.5L458.5 568.5M458.5 568.5L452.3 573.7M452.3 573.7L453.5 577.0M468.5 578.1L462.1 578.3M466.1 566.2L461.4 569.5M460.4 585.1L461.2 579.2M449.7 581.2L453.5 577.0M455.2 564.6L458.5 568.5M447.9 571.0L452.3 573.7M510.6 615.3L502.3 615.3M504.0 605.6L501.7 606.9M501.7 606.9L502.3 615.3M502.6 623.0L502.0 615.8M502.0 615.8L502.3 615.3M493.7 622.6L493.7 616.2M502.0 615.8L493.7 616.2M486.7 605.5L493.4 607.7M486.7 605.5L486.9 596.8M486.9 596.8L490.5 594.7M496.9 605.9L493.4 607.7M496.9 605.9L495.1 595.8M495.1 595.8L490.5 594.7M481.5 595.1L486.9 596.8M485.0 606.6L486.7 605.5M485.0 606.6L477.0 605.5M489.9 587.0L490.5 594.7M501.7 606.9L496.9 605.9M493.7 616.2L492.8 615.2M492.8 615.2L493.4 607.7M498.4 594.2L495.1 595.8M484.6 621.2L479.5 623.2M484.6 621.2L485.3 616.1M484.1 614.7L485.3 616.1M484.1 614.7L477.1 614.6M479.5 623.2L475.8 620.0M475.8 620.0L477.1 614.6M487.5 623.9L484.6 621.2M478.5 628.8L479.5 623.2M492.8 615.2L485.3 616.1M485.0 606.6L484.1 614.7M475.3 612.1L477.1 614.6M471.7 621.2L475.8 620.0" fill="none" stroke="#ca92c6" stroke-width="1.7" stroke-linejoin="round"/>
<ellipse cx="496.0" cy="583.4" rx="67.10000000000001" ry="47.0" fill="none" stroke="#c98ac2" stroke-width="0.9"/>
<circle cx="476.4" cy="556.8" r="5.6" fill="#5a3a50" opacity="0.55" filter="url(#blur)"/><line x1="473.1" y1="549.0" x2="472.6" y2="544.0" stroke="#e8806a" stroke-width="1.3"/><circle cx="473.8" cy="554.0" r="5.5" fill="url(#gP)"/>
<circle cx="498.6" cy="553.6" r="5.6" fill="#5a3a50" opacity="0.55" filter="url(#blur)"/><line x1="495.4" y1="545.8" x2="494.8" y2="540.8" stroke="#e8806a" stroke-width="1.3"/><circle cx="496.0" cy="550.8" r="5.5" fill="url(#gP)"/>
<circle cx="520.5" cy="558.8" r="5.6" fill="#5a3a50" opacity="0.55" filter="url(#blur)"/><circle cx="517.9" cy="556.0" r="5.5" fill="url(#gG)"/>
<circle cx="505.9" cy="567.2" r="5.6" fill="#5a3a50" opacity="0.55" filter="url(#blur)"/><line x1="502.7" y1="559.4" x2="502.1" y2="554.4" stroke="#e8806a" stroke-width="1.3"/><circle cx="503.3" cy="564.4" r="5.5" fill="url(#gP)"/>
<circle cx="463.2" cy="573.4" r="5.6" fill="#5a3a50" opacity="0.55" filter="url(#blur)"/><line x1="460.0" y1="565.6" x2="459.4" y2="560.6" stroke="#e8806a" stroke-width="1.3"/><circle cx="460.6" cy="570.6" r="5.5" fill="url(#gP)"/>
<circle cx="526.4" cy="578.2" r="5.6" fill="#5a3a50" opacity="0.55" filter="url(#blur)"/><line x1="523.1" y1="570.4" x2="522.5" y2="565.4" stroke="#e8806a" stroke-width="1.3"/><circle cx="523.8" cy="575.4" r="5.5" fill="url(#gP)"/>
<circle cx="543.0" cy="575.5" r="5.6" fill="#5a3a50" opacity="0.55" filter="url(#blur)"/><line x1="539.8" y1="567.7" x2="539.2" y2="562.7" stroke="#e8806a" stroke-width="1.3"/><circle cx="540.4" cy="572.7" r="5.5" fill="url(#gP)"/>
<circle cx="485.5" cy="586.5" r="5.6" fill="#5a3a50" opacity="0.55" filter="url(#blur)"/><line x1="482.3" y1="578.8" x2="481.7" y2="573.8" stroke="#e8806a" stroke-width="1.3"/><circle cx="482.9" cy="583.8" r="5.5" fill="url(#gP)"/>
<circle cx="506.6" cy="589.0" r="5.6" fill="#5a3a50" opacity="0.55" filter="url(#blur)"/><line x1="503.4" y1="581.2" x2="502.8" y2="576.2" stroke="#e8806a" stroke-width="1.3"/><circle cx="504.0" cy="586.2" r="5.5" fill="url(#gP)"/>
<circle cx="459.6" cy="592.2" r="5.6" fill="#5a3a50" opacity="0.55" filter="url(#blur)"/><circle cx="457.0" cy="589.4" r="5.5" fill="url(#gG)"/>
<circle cx="536.8" cy="599.8" r="5.6" fill="#5a3a50" opacity="0.55" filter="url(#blur)"/><circle cx="534.2" cy="597.0" r="5.5" fill="url(#gG)"/>
<circle cx="447.0" cy="604.7" r="5.6" fill="#5a3a50" opacity="0.55" filter="url(#blur)"/><line x1="443.8" y1="596.9" x2="443.2" y2="591.9" stroke="#e8806a" stroke-width="1.3"/><circle cx="444.4" cy="601.9" r="5.5" fill="url(#gP)"/>
<circle cx="477.8" cy="609.5" r="5.6" fill="#5a3a50" opacity="0.55" filter="url(#blur)"/><line x1="474.6" y1="601.7" x2="474.0" y2="596.7" stroke="#e8806a" stroke-width="1.3"/><circle cx="475.2" cy="606.7" r="5.5" fill="url(#gP)"/>
<circle cx="521.1" cy="616.1" r="5.6" fill="#5a3a50" opacity="0.55" filter="url(#blur)"/><line x1="517.9" y1="608.3" x2="517.3" y2="603.3" stroke="#e8806a" stroke-width="1.3"/><circle cx="518.5" cy="613.3" r="5.5" fill="url(#gP)"/>
<circle cx="494.5" cy="624.0" r="5.6" fill="#5a3a50" opacity="0.55" filter="url(#blur)"/><line x1="491.3" y1="616.2" x2="490.7" y2="611.2" stroke="#e8806a" stroke-width="1.3"/><circle cx="491.9" cy="621.2" r="5.5" fill="url(#gP)"/>
<path d="M390.00 331.21A15 15 0 0 1 405.00 331.21L400.30 339.35A5.6 5.6 0 0 0 394.70 339.35ZM412.50 344.20A15 15 0 0 1 405.00 357.19L400.30 349.05A5.6 5.6 0 0 0 403.10 344.20ZM390.00 357.19A15 15 0 0 1 382.50 344.20L391.90 344.20A5.6 5.6 0 0 0 394.70 349.05Z" fill="#161616"/><circle cx="397.5" cy="344.2" r="3.6" fill="#161616"/>
<g transform="translate(383.2,389.2) scale(1.0)"><rect x="1" y="1" width="26.5" height="34" rx="4.5" fill="#fff" stroke="#333" stroke-width="2"/><path d="M5 14.5H26.5V30.5Q26.5 33 24 33H18.5L15.5 31.5L12.5 33H7.5Q5 33 5 30.5Z" fill="#f08c32"/><path d="M15.5 4.5V11.5M12 8H19" stroke="#f08c32" stroke-width="2"/><line x1="2.8" y1="17.3" x2="7.6" y2="17.3" stroke="#333" stroke-width="1.7"/><line x1="2.8" y1="22" x2="7.6" y2="22" stroke="#333" stroke-width="1.7"/><line x1="2.8" y1="26" x2="7.6" y2="26" stroke="#333" stroke-width="1.7"/><line x1="2.8" y1="29.8" x2="7.6" y2="29.8" stroke="#333" stroke-width="1.7"/><line x1="15.5" y1="31" x2="15.5" y2="51" stroke="#333" stroke-width="1.6"/><circle cx="15.5" cy="41.6" r="2.4" fill="#fff" stroke="#333" stroke-width="1.6"/></g>
<g transform="translate(579.4,374.6) rotate(-60) scale(0.9683794466403162)"><polygon points="0,0 20,-0.9 20,0.9" fill="#161616"/><polygon points="18,-1.3 21.5,-2.6 21.5,2.6 18,1.3" fill="#161616"/><rect x="21.5" y="-3.8" width="19.5" height="7.6" fill="#fff" stroke="#161616" stroke-width="1.6"/><line x1="25" y1="-3.3" x2="25" y2="0.6" stroke="#161616" stroke-width="1.1"/><line x1="28" y1="-3.3" x2="28" y2="0.6" stroke="#161616" stroke-width="1.1"/><line x1="31" y1="-3.3" x2="31" y2="0.6" stroke="#161616" stroke-width="1.1"/><line x1="34" y1="-3.3" x2="34" y2="0.6" stroke="#161616" stroke-width="1.1"/><line x1="37" y1="-3.3" x2="37" y2="0.6" stroke="#161616" stroke-width="1.1"/><line x1="41.5" y1="-6.2" x2="41.5" y2="6.2" stroke="#161616" stroke-width="1.8"/><rect x="41" y="-1.6" width="6.5" height="3.2" fill="#161616"/><rect x="47" y="-4.3" width="3.4" height="8.6" fill="#161616"/></g>
<polygon points="594.80,396.20 604.60,403.10 604.60,418.10 596.00,421.50 587.30,415.80 585.00,402.50" fill="#161616" stroke="#161616" stroke-width="1.5" stroke-linejoin="round"/><line x1="595.4" y1="408.8" x2="595.20" y2="391.00" stroke="#161616" stroke-width="1.30"/><circle cx="595.20" cy="391.00" r="1.60" fill="#161616"/><line x1="595.4" y1="408.8" x2="580.40" y2="399.60" stroke="#161616" stroke-width="1.30"/><circle cx="580.40" cy="399.60" r="1.60" fill="#161616"/><line x1="595.4" y1="408.8" x2="608.70" y2="403.00" stroke="#161616" stroke-width="1.30"/><circle cx="608.70" cy="403.00" r="1.60" fill="#161616"/><line x1="595.4" y1="408.8" x2="608.00" y2="416.90" stroke="#161616" stroke-width="1.30"/><circle cx="608.00" cy="416.90" r="1.60" fill="#161616"/><line x1="595.4" y1="408.8" x2="606.90" y2="423.80" stroke="#161616" stroke-width="1.30"/><circle cx="606.90" cy="423.80" r="1.60" fill="#161616"/><line x1="595.4" y1="408.8" x2="596.30" y2="427.90" stroke="#161616" stroke-width="1.30"/><circle cx="596.30" cy="427.90" r="1.60" fill="#161616"/><line x1="595.4" y1="408.8" x2="582.10" y2="418.70" stroke="#161616" stroke-width="1.30"/><circle cx="582.10" cy="418.70" r="1.60" fill="#161616"/><line x1="595.4" y1="408.8" x2="590.80" y2="420.40" stroke="#161616" stroke-width="1.30"/><circle cx="590.80" cy="420.40" r="1.60" fill="#161616"/>
<path d="M180.6 450.8H212.8M196.9 450.8V523" stroke="#333" stroke-width="2.1" fill="none"/>
<path d="M292.2 583.3H364M364 567.4V598.9" stroke="#333" stroke-width="2.1" fill="none"/>
<path d="M498.1 451.7V503" stroke="#2a2a2a" stroke-width="1.7"/>
<path d="M486.7 493.9L498.3 517.8L509.4 493.9L498.1 503.3Z" fill="#1a1a1a"/>
<polygon points="151.85,570.80 155.96,570.80 158.50,576.96 161.04,570.80 165.15,570.80 160.65,581.37 160.65,593.30 156.35,593.30 156.35,581.37" fill="#3f4897"/>
<polygon points="165.45,556.70 169.56,556.70 172.10,562.86 174.64,556.70 178.75,556.70 174.25,567.27 174.25,579.20 169.95,579.20 169.95,567.27" fill="#3f4897"/>
<polygon points="169.45,582.60 173.65,582.60 176.25,588.90 178.85,582.60 183.05,582.60 178.45,593.40 178.45,605.60 174.05,605.60 174.05,593.40" fill="#3f4897"/>
<polygon points="179.93,567.40 184.11,567.40 186.70,573.67 189.29,567.40 193.47,567.40 188.89,578.15 188.89,590.30 184.51,590.30 184.51,578.15" fill="#3f4897"/>
<polygon points="194.51,579.20 198.67,579.20 201.25,585.45 203.83,579.20 207.99,579.20 203.43,589.91 203.43,602.00 199.07,602.00 199.07,589.91" fill="#3f4897"/>
<polygon points="206.98,561.80 211.16,561.80 213.75,568.07 216.34,561.80 220.52,561.80 215.94,572.55 215.94,584.70 211.56,584.70 211.56,572.55" fill="#3f4897"/>
<polygon points="208.33,588.20 212.51,588.20 215.10,594.47 217.69,588.20 221.87,588.20 217.29,598.95 217.29,611.10 212.91,611.10 212.91,598.95" fill="#3f4897"/>
<polygon points="221.23,573.60 225.41,573.60 228.00,579.87 230.59,573.60 234.77,573.60 230.19,584.35 230.19,596.50 225.81,596.50 225.81,584.35" fill="#3f4897"/>
<rect x="121.8" y="631.8" width="323" height="75" rx="12" fill="none" stroke="#333" stroke-width="1.6"/>
<line x1="139.0" y1="645.4" x2="138.6" y2="640.4" stroke="#e8805a" stroke-width="1.5"/><circle cx="139.6" cy="650.6" r="5.7" fill="url(#gP)"/>
<circle cx="139.6" cy="670.6" r="5.7" fill="url(#gG)"/>
<polygon points="136.07,687.60 138.38,687.60 139.80,691.05 141.22,687.60 143.53,687.60 141.01,693.52 141.01,700.20 138.59,700.20 138.59,693.52" fill="#3f4897"/>
<text x="151.6" y="651" font-family="Liberation Serif" font-size="11.7" fill="#1c1c1c" stroke="#1c1c1c" stroke-width="0.22">effector T cell</text>
<text x="151.6" y="672.2" font-family="Liberation Serif" font-size="11.7" fill="#1c1c1c" stroke="#1c1c1c" stroke-width="0.22">regulatory T cell</text>
<text x="151.6" y="695.4" font-family="Liberation Serif" font-size="11.7" fill="#1c1c1c" stroke="#1c1c1c" stroke-width="0.22">checkpoint blockade antibodies</text>
<text x="338.1" y="649.3" font-family="Liberation Serif" font-size="11.7" fill="#1c1c1c" stroke="#1c1c1c" stroke-width="0.22">radiation therapy</text>
<text x="338.1" y="664" font-family="Liberation Serif" font-size="11.7" fill="#1c1c1c" stroke="#1c1c1c" stroke-width="0.22">chemotherapy</text>
<text x="338.1" y="678.8" font-family="Liberation Serif" font-size="11.7" fill="#1c1c1c" stroke="#1c1c1c" stroke-width="0.22">peptide vaccination</text>
<text x="338.1" y="694.7" font-family="Liberation Serif" font-size="11.7" fill="#1c1c1c" stroke="#1c1c1c" stroke-width="0.22">oncolytic viruses</text>
<path d="M323.50 642.82A4.6 4.6 0 0 1 328.10 642.82L326.60 645.41A1.6 1.6 0 0 0 325.00 645.41ZM330.40 646.80A4.6 4.6 0 0 1 328.10 650.78L326.60 648.19A1.6 1.6 0 0 0 327.40 646.80ZM323.50 650.78A4.6 4.6 0 0 1 321.20 646.80L324.20 646.80A1.6 1.6 0 0 0 325.00 648.19Z" fill="#161616"/><circle cx="325.8" cy="646.8" r="1.1" fill="#161616"/>
<rect x="323.6" y="657.6" width="5" height="6.6" rx="1.2" fill="#e6e2dc" stroke="#a8a49e" stroke-width="0.6"/>
<rect x="324.1" y="660.3" width="4" height="3.3" fill="#f0882e"/>
<line x1="326.1" y1="664" x2="326.1" y2="666" stroke="#999" stroke-width="0.6"/>
<line x1="321.7" y1="682.5" x2="327.9" y2="673.3" stroke="#666" stroke-width="0.7"/>
<line x1="324.2" y1="678.8" x2="327.2" y2="674.4" stroke="#444" stroke-width="1.7"/>
<polygon points="326.40,688.24 329.64,690.52 329.64,695.47 326.80,696.59 323.93,694.71 323.17,690.32" fill="#161616" stroke="#161616" stroke-width="0.495" stroke-linejoin="round"/><line x1="326.6" y1="692.4" x2="326.53" y2="686.53" stroke="#161616" stroke-width="0.43"/><circle cx="326.53" cy="686.53" r="0.53" fill="#161616"/><line x1="326.6" y1="692.4" x2="321.65" y2="689.36" stroke="#161616" stroke-width="0.43"/><circle cx="321.65" cy="689.36" r="0.53" fill="#161616"/><line x1="326.6" y1="692.4" x2="330.99" y2="690.49" stroke="#161616" stroke-width="0.43"/><circle cx="330.99" cy="690.49" r="0.53" fill="#161616"/><line x1="326.6" y1="692.4" x2="330.76" y2="695.07" stroke="#161616" stroke-width="0.43"/><circle cx="330.76" cy="695.07" r="0.53" fill="#161616"/><line x1="326.6" y1="692.4" x2="330.40" y2="697.35" stroke="#161616" stroke-width="0.43"/><circle cx="330.40" cy="697.35" r="0.53" fill="#161616"/><line x1="326.6" y1="692.4" x2="326.90" y2="698.70" stroke="#161616" stroke-width="0.43"/><circle cx="326.90" cy="698.70" r="0.53" fill="#161616"/><line x1="326.6" y1="692.4" x2="322.21" y2="695.67" stroke="#161616" stroke-width="0.43"/><circle cx="322.21" cy="695.67" r="0.53" fill="#161616"/><line x1="326.6" y1="692.4" x2="325.08" y2="696.23" stroke="#161616" stroke-width="0.43"/><circle cx="325.08" cy="696.23" r="0.53" fill="#161616"/></svg>
<div id="box3" class="abs"></div>
<div class="t cn" style="left:28px;top:786.5px;"><span style="-webkit-text-stroke:0">1</span>、免疫检查点抑制剂主要适用于<span class="ql">“</span>热<span class="qr">”</span>肿瘤，这些肿瘤由于</div>
<div class="t cn" style="left:28px;top:826.5px;">其高突变负荷而呈现炎症特征。</div>
<div class="t cn" style="left:28px;top:866.5px;"><span style="-webkit-text-stroke:0">2</span>、如果与局部治疗、多肽疫苗或溶瘤病毒联合使用，<span class="ql">“</span>冷<span class="qr">”</span></div>
<div class="t cn" style="left:28px;top:906.5px;">肿瘤可能会对免疫检查点抑制剂敏感。</div>

<svg class="abs" style="left:0;top:950px" width="720" height="20" viewBox="0 950 720 20"><!--swoosh--><path d="M125 966L150 959L200 958L197 966Z" fill="#e6edf4" opacity="0.45"/><path d="M175 966L176 958L197 958L195 966Z" fill="#d6e2ec" opacity="0.4"/><path d="M210 966L235 960L330 959L320 966Z" fill="#eef2f6" opacity="0.4"/></svg>
<div class="abs" style="left:10px;top:966px;width:169px;height:12px;background:#0a0848;"></div>
<div class="abs" style="left:179.6px;top:966px;width:526.4px;height:12px;background:#00a096;"></div>
<div class="t" style="left:9.5px;top:1001.8px;font-family:'Liberation Serif',serif;font-weight:bold;font-size:24.3px;transform-origin:0 0;transform:scaleX(1.16);color:#0e0c4e;">HYGEA</div>
<svg class="abs" style="left:0;top:990px" width="720" height="50" viewBox="0 990 720 50">
<path d="M111.2 997.8h2.8v3h3.4v2.9h-3.4v3h-2.8v-3h-3.4v-2.9h3.4z" fill="#e3141e"/>
<g fill="none" stroke="#777" stroke-width="0.9" stroke-dasharray="2.2 1">
<path d="M620.5 1003.5C620 999.5 616.5 997.3 613 997.3C608.8 997.3 606 1000 606 1003.3C606 1005.3 607 1007 608.8 1008L608 1010.8L611 1009.2C612 1009.5 613 1009.6 614 1009.6"/>
<path d="M633 1011C633 1007.6 629.8 1005 625.7 1005C621.5 1005 618.3 1007.6 618.3 1011C618.3 1014.4 621.5 1017 625.7 1017C626.6 1017 627.4 1016.9 628.2 1016.6L631 1018L630.3 1015.6C632 1014.5 633 1012.9 633 1011Z"/>
</g>
<circle cx="610.5" cy="1001.5" r="0.8" fill="#777"/><circle cx="615.5" cy="1001.5" r="0.8" fill="#777"/>
<circle cx="623.3" cy="1009" r="0.7" fill="#777"/><circle cx="628" cy="1009" r="0.7" fill="#777"/>
</svg>
<div class="t" style="left:640.8px;top:1001.4px;font-size:18px;transform-origin:0 0;transform:scaleX(0.9);color:#4e4e4e;">HYGEA</div>
</body></html>
